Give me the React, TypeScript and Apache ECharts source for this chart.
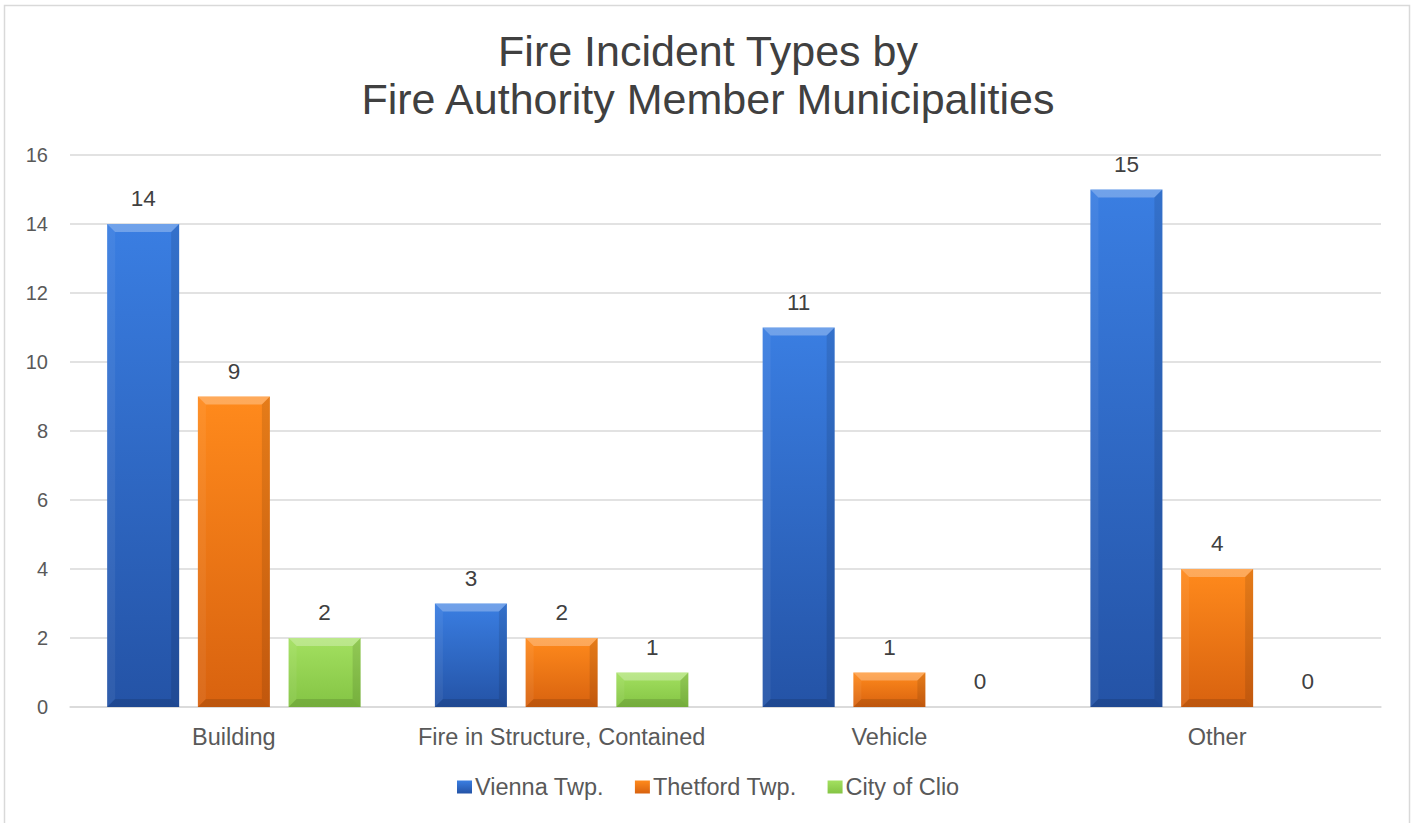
import React, { useEffect, useRef } from "react";
import * as echarts from "echarts";

const categories = ["Building", "Fire in Structure, Contained", "Vehicle", "Other"];
const vienna = [14, 3, 11, 15];
const thetford = [9, 2, 1, 4];
const clio = [2, 1, 0, 0];
const seriesNames = ["Vienna Twp.", "Thetford Twp.", "City of Clio"];

const FONT = "Liberation Sans, Arial, sans-serif";
const BAR_W = 72;
const GAP_RATIO = 0.26;

function grad(top: string, bottom: string) {
  return new echarts.graphic.LinearGradient(0, 0, 0, 1, [
    { offset: 0, color: top },
    { offset: 1, color: bottom },
  ]);
}

export default function App() {
  const ref = useRef<HTMLDivElement>(null);
  useEffect(() => {
    const chart = echarts.init(ref.current!, null, { renderer: "svg" });
    const label = {
      show: true,
      position: "top" as const,
      distance: 14,
      color: "#404040",
      fontSize: 22.5,
      fontFamily: FONT,
    };
    const step = BAR_W * (1 + GAP_RATIO);
    const mkBar = (name: string, data: number[], top: string, bottom: string) => ({
      name,
      type: "bar" as const,
      data,
      barWidth: BAR_W,
      barGap: GAP_RATIO * 100 + "%",
      label,
      itemStyle: { color: grad(top, bottom) },
    });
    const mkBevel = (name: string, data: number[], idx: number) => ({
      name: name + " bevel",
      type: "custom" as const,
      z: 5,
      silent: true,
      data: data.map((v, i) => [i, v]),
      renderItem: (params: any, api: any) => {
        const val = api.value(1);
        if (!val) return null;
        const topPt = api.coord([api.value(0), val]);
        const basePt = api.coord([api.value(0), 0]);
        const x = topPt[0] + (idx - 1) * step - BAR_W / 2;
        const y = topPt[1];
        const bot = basePt[1];
        const w = BAR_W;
        const b = Math.min(8, (bot - y) / 2);
        return {
          type: "group",
          children: [
            {
              type: "polygon",
              shape: { points: [[x, y], [x + w, y], [x + w - b, y + b], [x + b, y + b]] },
              style: { fill: "rgba(255,255,255,0.28)" },
            },
            {
              type: "polygon",
              shape: { points: [[x, y], [x + b, y + b], [x + b, bot - b], [x, bot]] },
              style: { fill: "rgba(255,255,255,0.06)" },
            },
            {
              type: "polygon",
              shape: { points: [[x + w, y], [x + w, bot], [x + w - b, bot - b], [x + w - b, y + b]] },
              style: { fill: "rgba(0,0,0,0.1)" },
            },
            {
              type: "polygon",
              shape: { points: [[x, bot], [x + b, bot - b], [x + w - b, bot - b], [x + w, bot]] },
              style: { fill: "rgba(0,0,0,0.12)" },
            },
          ],
        };
      },
    });
    chart.setOption({
      animation: false,
      backgroundColor: "#ffffff",
      title: {
        text: "Fire Incident Types by\nFire Authority Member Municipalities",
        left: "center",
        top: 22,
        textStyle: { color: "#404040", fontSize: 43, fontWeight: "normal", fontFamily: FONT, lineHeight: 48 },
      },
      graphic: [
        {
          type: "rect",
          shape: { x: 4.5, y: 5.5, width: 1405, height: 840 },
          style: { fill: "none", stroke: "#d9d9d9", lineWidth: 1.5 },
          silent: true,
        },
      ],
      grid: { left: 70, right: 35, top: 155, bottom: 116, containLabel: false },
      legend: {
        top: 770,
        left: 452,
        itemWidth: 15,
        itemHeight: 13,
        itemGap: 31,
        icon: "rect",
        textStyle: { color: "#595959", fontSize: 23.5, fontFamily: FONT, padding: [0, 0, 0, -2] },
        data: seriesNames,
      },
      xAxis: {
        type: "category",
        data: categories,
        axisLine: { lineStyle: { color: "#d9d9d9", width: 1.5 } },
        axisTick: { show: false },
        axisLabel: { color: "#595959", fontSize: 23.5, fontFamily: FONT, margin: 18, interval: 0 },
      },
      yAxis: {
        type: "value",
        min: 0,
        max: 16,
        interval: 2,
        axisLine: { show: false },
        axisTick: { show: false },
        splitLine: { lineStyle: { color: "#d9d9d9", width: 1.5 } },
        axisLabel: { color: "#595959", fontSize: 20, fontFamily: FONT, margin: 22 },
      },
      series: [
        mkBar(seriesNames[0], vienna, "#3a7ee2", "#2453a6"),
        mkBar(seriesNames[1], thetford, "#ff8a1c", "#d8620f"),
        mkBar(seriesNames[2], clio, "#a3e060", "#84c444"),
        mkBevel(seriesNames[0], vienna, 0),
        mkBevel(seriesNames[1], thetford, 1),
        mkBevel(seriesNames[2], clio, 2),
      ],
    });
    return () => chart.dispose();
  }, []);
  return (
    <div
      ref={ref}
      style={{ position: "absolute", left: 0, top: 0, width: 1416, height: 823 }}
    />
  );
}
